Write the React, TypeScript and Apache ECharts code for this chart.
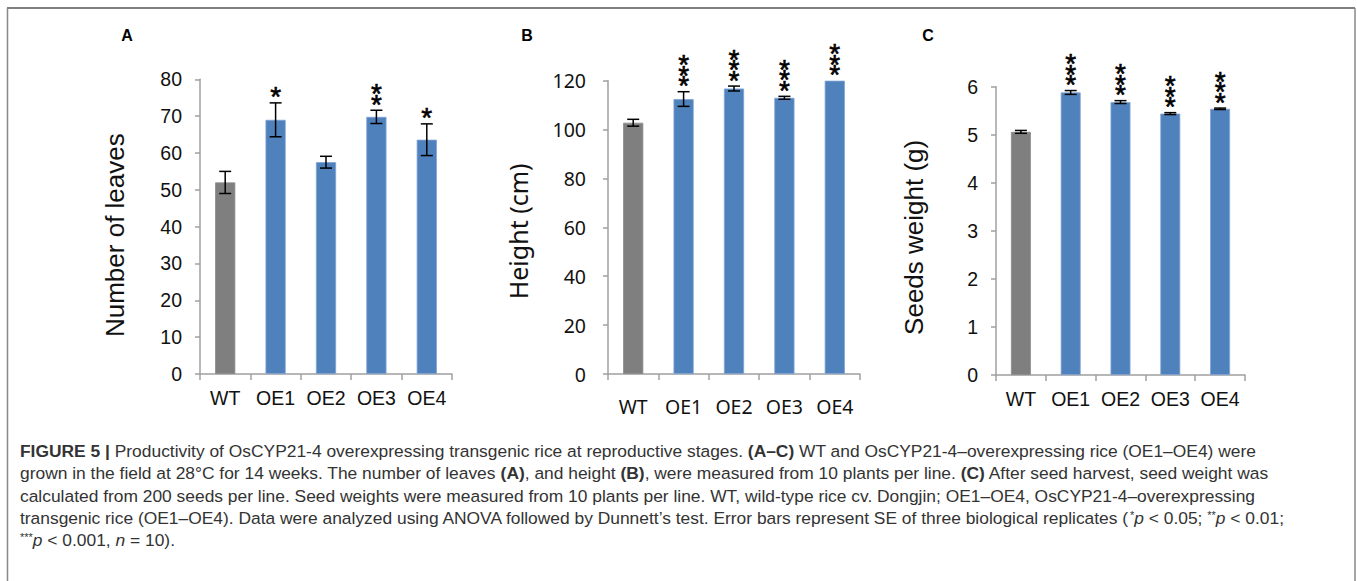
import React, { useEffect, useRef } from "react";
import * as echarts from "echarts";

const categories = ["WT", "OE1", "OE2", "OE3", "OE4"];

const leavesMean = [52, 69, 57.5, 69.8, 63.6];
const leavesSE = [3, 4.6, 1.6, 1.8, 4.3];
const leavesSig = ["", "*", "", "**", "*"];

const heightMean = [102.8, 112.5, 116.8, 113.0, 120.0];
const heightSE = [1.4, 3.0, 1.0, 0.6, 0];
const heightSig = ["", "***", "***", "***", "***"];

const seedMean = [5.06, 5.88, 5.68, 5.44, 5.54];
const seedSE = [0.03, 0.04, 0.03, 0.02, 0.015];
const seedSig = ["", "***", "***", "***", "***"];

const captionLines = [
  "{b|FIGURE 5 |} Productivity of OsCYP21-4 overexpressing transgenic rice at reproductive stages. {b|(A–C)} WT and OsCYP21-4–overexpressing rice (OE1–OE4) were",
  "grown in the field at 28°C for 14 weeks. The number of leaves {b|(A)}, and height {b|(B)}, were measured from 10 plants per line. {b|(C)} After seed harvest, seed weight was",
  "calculated from 200 seeds per line. Seed weights were measured from 10 plants per line. WT, wild-type rice cv. Dongjin; OE1–OE4, OsCYP21-4–overexpressing",
  "transgenic rice (OE1–OE4). Data were analyzed using ANOVA followed by Dunnett’s test. Error bars represent SE of three biological replicates ({s|*}{i|p} < 0.05; {s|**}{i|p} < 0.01;",
  "{s|***}{i|p} < 0.001, {i|n} = 10).",
];

const GRAY = "#7f7f7f";
const BLUE = "#4f81bd";
const AXIS = "#a0a0a0";
const ARIAL = "'Liberation Sans', Arial, sans-serif";
const KFONT = "'Noto Sans', 'Open Sans', sans-serif";
const CAP = 17.4;

export default function App() {
  const ref = useRef<HTMLDivElement>(null);
  useEffect(() => {
    if (!ref.current) return;
    const chart = echarts.init(ref.current, undefined, { renderer: "svg" });

    const grids = [
      { left: 200, top: 79.3, width: 252, height: 294.7 },
      { left: 608, top: 80.7, width: 252, height: 293.3 },
      { left: 996, top: 86.7, width: 249, height: 288.3 },
    ];
    const fonts = [ARIAL, KFONT, ARIAL];
    const names = ["Number of leaves", "Height (cm)", "Seeds weight (g)"];
    const nameGaps = [72, 78, 69];
    const namePads = [17, 8, 13];
    const labelMargins = [18, 22, 18];
    const catMargins = [14, 22, 14];
    const yMax = [80, 120, 6];
    const yInt = [10, 20, 1];
    const means = [leavesMean, heightMean, seedMean];
    const ses = [leavesSE, heightSE, seedSE];
    const sigs = [leavesSig, heightSig, seedSig];

    const xAxis = grids.map((_, i) => ({
      type: "category",
      gridIndex: i,
      data: categories,
      axisLine: { lineStyle: { color: AXIS, width: 1.5 } },
      axisTick: { show: true, length: 6, lineStyle: { color: AXIS, width: 1.5 } },
      axisLabel: { interval: 0, color: "#111", fontSize: 19.5, fontFamily: fonts[i], margin: catMargins[i] },
    }));
    const yAxis = grids.map((_, i) => ({
      type: "value",
      gridIndex: i,
      min: 0,
      max: yMax[i],
      interval: yInt[i],
      name: names[i],
      nameLocation: "middle",
      nameRotate: 90,
      nameGap: nameGaps[i],
      nameTextStyle: {
        fontSize: i === 1 ? 25 : 26,
        color: "#111",
        fontFamily: fonts[i],
        padding: [0, namePads[i], 0, 0],
      },
      splitLine: { show: false },
      axisLine: { show: true, lineStyle: { color: AXIS, width: 1.5 } },
      axisTick: { show: true, length: 5, lineStyle: { color: AXIS, width: 1.5 } },
      axisLabel: { color: "#111", fontSize: 19.5, fontFamily: fonts[i], margin: labelMargins[i] },
    }));

    const series: any[] = [];
    grids.forEach((_, i) => {
      series.push({
        type: "bar",
        xAxisIndex: i,
        yAxisIndex: i,
        barWidth: "40%",
        data: means[i].map((v, k) => ({
          value: v,
          itemStyle: { color: k === 0 ? GRAY : BLUE, borderColor: k === 0 ? "#8a8a8a" : "#7fa3d3", borderWidth: 0.8 },
        })),
      });
      const sig = sigs[i];
      series.push({
        type: "custom",
        xAxisIndex: i,
        yAxisIndex: i,
        z: 10,
        clip: false,
        data: means[i].map((v, k) => [k, v, ses[i][k]]),
        renderItem: (params: any, api: any) => {
          const x = api.value(0);
          const m = api.value(1);
          const s = api.value(2);
          const top = api.coord([x, m + s]);
          const bot = api.coord([x, m - s]);
          const children: any[] = [];
          const ls = { stroke: "#000", lineWidth: 1.5 };
          if (s > 0) {
            children.push({ type: "line", shape: { x1: top[0], y1: top[1], x2: bot[0], y2: bot[1] }, style: ls });
            children.push({ type: "line", shape: { x1: top[0] - 6, y1: top[1], x2: top[0] + 6, y2: top[1] }, style: ls });
            children.push({ type: "line", shape: { x1: bot[0] - 6, y1: bot[1], x2: bot[0] + 6, y2: bot[1] }, style: ls });
          }
          const str = sig[params.dataIndex];
          if (str) {
            children.push({
              type: "text",
              x: top[0],
              y: top[1] - 0.75,
              style: {
                text: str.split("").join("\n"),
                fontSize: 28,
                lineHeight: 10.5,
                fontFamily: ARIAL,
                fill: "#000",
                stroke: "#000",
                lineWidth: 0.6,
                align: "center",
                verticalAlign: "bottom",
              },
            });
          }
          return { type: "group", children };
        },
      });
    });

    const capStyle = {
      fontSize: CAP,
      fontFamily: ARIAL,
      fill: "#333",
      rich: {
        b: { fontWeight: "bold", fontSize: CAP, fontFamily: ARIAL, color: "#222" },
        i: { fontStyle: "italic", fontSize: CAP, fontFamily: ARIAL, color: "#333" },
        s: { fontSize: 11, fontFamily: ARIAL, color: "#333", verticalAlign: "top" },
      },
    };

    const graphic: any[] = [
      { type: "line", shape: { x1: 7, y1: 8, x2: 1355, y2: 8 }, style: { stroke: "#555", lineWidth: 1.5 } },
      { type: "line", shape: { x1: 7.5, y1: 8, x2: 7.5, y2: 581 }, style: { stroke: "#888", lineWidth: 1.5 } },
      { type: "line", shape: { x1: 1355, y1: 8, x2: 1355, y2: 581 }, style: { stroke: "#888", lineWidth: 1.5 } },
      { type: "text", x: 127, y: 35, style: { text: "A", fontSize: 16, fontWeight: "bold", fontFamily: ARIAL, fill: "#000", align: "center", verticalAlign: "middle" } },
      { type: "text", x: 527, y: 35, style: { text: "B", fontSize: 16, fontWeight: "bold", fontFamily: ARIAL, fill: "#000", align: "center", verticalAlign: "middle" } },
      { type: "text", x: 928, y: 35, style: { text: "C", fontSize: 16, fontWeight: "bold", fontFamily: ARIAL, fill: "#000", align: "center", verticalAlign: "middle" } },
    ];
    captionLines.forEach((t, k) => {
      graphic.push({
        type: "text",
        x: 20,
        y: 451 + k * 22.25,
        style: { ...capStyle, text: t, align: "left", verticalAlign: "middle" },
      });
    });

    chart.setOption({
      animation: false,
      backgroundColor: "#fff",
      grid: grids,
      xAxis,
      yAxis,
      series,
      graphic,
    });
    return () => chart.dispose();
  }, []);
  return <div ref={ref} style={{ position: "absolute", left: 0, top: 0, width: 1357, height: 581 }} />;
}
